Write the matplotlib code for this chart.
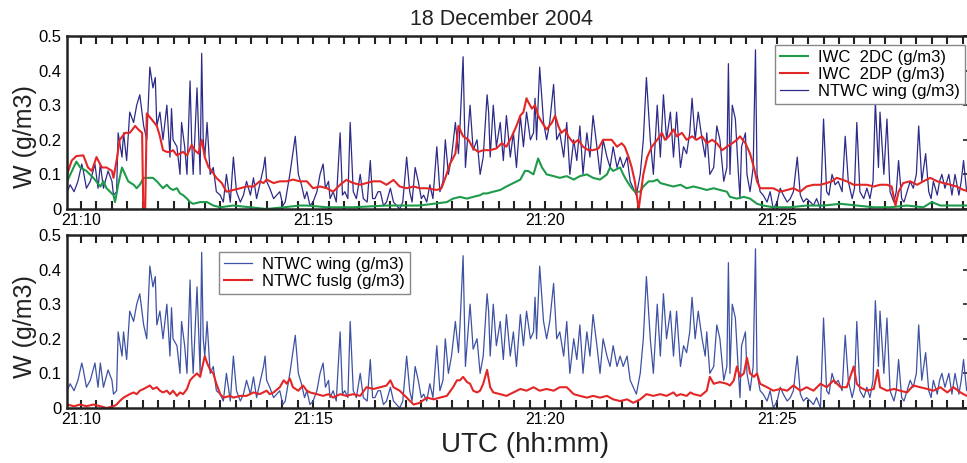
import numpy as np
import matplotlib
matplotlib.use("Agg")
import matplotlib.pyplot as plt
from matplotlib.ticker import FuncFormatter, MultipleLocator

plt.rcParams['font.family'] = ['Liberation Sans', 'DejaVu Sans']

# samples: (seconds after 21:10:00, W in g/m3)
wing = [(-18, .05), (-14, .07), (-9, .05), (-4, .08), (1, .13), (3, .11), (7, .06), (12, .08),
        (18, .13), (22, .06), (25, .13), (29, .06), (35, .11), (40, .08), (42, .04), (46, .05),
        (48, .22), (53, .15), (55, .22), (59, .14), (63, .28), (68, .25), (72, .30), (76, .33),
        (81, .24), (85, .20), (89, .41), (93, .35), (96, .38), (98, .24), (102, .28), (106, .20),
        (111, .30), (115, .15), (117, .29), (119, .20), (124, .18), (128, .10), (130, .25), (134, .18),
        (137, .10), (141, .37), (143, .20), (145, .10), (150, .35), (154, .10), (156, .45), (158, .20),
        (160, .15), (163, .25), (167, .10), (171, .12), (175, .05), (180, .04), (184, .02), (188, .10),
        (193, .02), (197, .15), (201, .05), (206, .02), (210, .04), (214, .08), (219, .04), (223, .09),
        (227, .03), (231, .07), (236, .12), (238, .15), (240, .08), (244, .06), (249, .03), (253, .04),
        (257, .05), (261, .01), (264, .02), (267, .06), (270, .10), (277, .21), (281, .10), (285, .07),
        (289, .03), (292, .05), (296, .01), (300, .02), (305, .05), (309, .10), (313, .13), (316, .06),
        (320, .08), (322, .03), (326, .05), (330, .02), (335, .22), (338, .04), (341, .05), (345, .03),
        (348, .25), (352, .05), (356, .03), (361, .10), (365, .03), (370, .02), (374, .14), (377, .03),
        (380, .03), (384, .05), (387, .05), (391, .01), (395, .02), (400, .06), (404, .02), (408, .01),
        (412, .00), (416, .02), (421, .15), (425, .05), (428, .02), (432, .12), (436, .08), (440, .03),
        (443, .04), (447, .02), (451, .07), (455, .03), (460, .18), (464, .05), (468, .08), (471, .20),
        (475, .10), (479, .15), (484, .25), (488, .16), (490, .24), (494, .44), (497, .12), (499, .18),
        (503, .30), (507, .17), (512, .20), (516, .10), (520, .15), (525, .33), (527, .28), (529, .15),
        (533, .30), (537, .18), (542, .25), (546, .14), (550, .27), (555, .15), (559, .22), (563, .12),
        (568, .27), (572, .18), (576, .28), (581, .20), (585, .22), (587, .32), (589, .20), (593, .41),
        (598, .25), (602, .20), (606, .25), (611, .36), (615, .20), (619, .22), (624, .15), (628, .25),
        (632, .10), (637, .20), (641, .14), (645, .24), (649, .10), (654, .22), (658, .15), (662, .27),
        (667, .18), (671, .10), (675, .20), (680, .15), (684, .12), (688, .18), (693, .12), (697, .15),
        (701, .12), (706, .15), (710, .08), (714, .06), (718, .04), (723, .10), (727, .20), (731, .38),
        (736, .20), (740, .10), (745, .30), (749, .15), (753, .33), (757, .20), (762, .28), (766, .15),
        (770, .28), (775, .12), (779, .18), (783, .16), (787, .22), (790, .32), (794, .20), (798, .28),
        (803, .20), (807, .15), (809, .22), (813, .10), (818, .12), (822, .24), (826, .20), (831, .08),
        (835, .12), (837, .42), (839, .10), (842, .30), (846, .26), (850, .10), (852, .03), (854, .18),
        (859, .22), (861, .10), (865, .05), (869, .12), (872, .46), (874, .10), (878, .05), (882, .04),
        (887, .02), (891, .05), (895, .00), (900, .02), (904, .06), (908, .04), (913, .02), (917, .03),
        (921, .05), (926, .15), (930, .04), (934, .02), (938, .03), (943, .02), (947, .01), (951, .03),
        (956, .00), (960, .26), (964, .05), (967, .04), (971, .10), (975, .07), (979, .08), (984, .05),
        (988, .21), (992, .08), (997, .03), (1000, .06), (1003, .25), (1007, .05), (1012, .03), (1016, .06),
        (1020, .03), (1024, .08), (1027, .31), (1031, .12), (1033, .28), (1038, .10), (1042, .26), (1046, .05),
        (1051, .02), (1054, .05), (1057, .14), (1061, .03), (1064, .02), (1068, .05), (1072, .08), (1076, .06),
        (1080, .10), (1083, .24), (1087, .08), (1092, .16), (1096, .05), (1099, .03), (1102, .08), (1107, .04),
        (1110, .08), (1113, .10), (1117, .06), (1122, .10), (1126, .04), (1130, .10), (1135, .04), (1138, .08),
        (1141, .14), (1145, .05), (1150, .06)]

iwc_2dc = [(-18, .08), (-6, .137), (-1, .12), (7, .11), (16, .09), (25, .065), (29, .08), (33, .06),
           (42, .04), (44, .02), (48, .07), (53, .12), (57, .10), (61, .08), (68, .07), (72, .06),
           (76, .07), (81, .09), (87, .09), (93, .09), (98, .08), (102, .07), (106, .06), (111, .07),
           (115, .06), (119, .055), (124, .06), (128, .045), (132, .04), (137, .03), (141, .02), (145, .015),
           (154, .02), (163, .02), (167, .015), (171, .01), (180, .005), (197, .01), (240, .0), (262, .005),
           (283, .01), (292, .01), (318, .005), (352, .005), (395, .01), (438, .01), (473, .02), (481, .03),
           (490, .035), (499, .03), (507, .035), (516, .04), (520, .045), (525, .045), (533, .05), (542, .055),
           (550, .065), (559, .075), (568, .085), (574, .11), (578, .11), (585, .10), (591, .146), (596, .12),
           (602, .10), (611, .095), (619, .09), (628, .095), (637, .085), (645, .095), (654, .10), (662, .09),
           (671, .085), (680, .10), (684, .12), (688, .11), (697, .12), (701, .10), (706, .08), (712, .06),
           (716, .05), (723, .05), (727, .065), (734, .08), (740, .08), (745, .085), (749, .075), (757, .07),
           (766, .065), (775, .07), (783, .06), (792, .065), (801, .06), (809, .055), (818, .06), (826, .055),
           (835, .05), (839, .035), (848, .03), (857, .035), (865, .03), (874, .015), (882, .01), (895, .005),
           (917, .005), (938, .01), (960, .01), (982, .015), (1003, .01), (1025, .005), (1046, .005),
           (1068, .01), (1089, .005), (1100, .02), (1111, .01), (1150, .01)]

iwc_2dp = [(-18, .10), (-12, .14), (-6, .153), (3, .155), (9, .12), (14, .11), (20, .15), (27, .12),
           (33, .12), (40, .11), (42, .09), (46, .14), (50, .20), (57, .22), (63, .22), (70, .24),
           (74, .23), (79, .22), (80.5, .0), (83, .0), (85, .276), (91, .26), (98, .24), (102, .21),
           (106, .17), (111, .165), (115, .165), (119, .17), (124, .155), (128, .16), (132, .165), (137, .155),
           (143, .185), (147, .17), (152, .16), (156, .20), (160, .15), (165, .12), (169, .11), (175, .09),
           (182, .075), (188, .05), (197, .055), (206, .06), (214, .065), (223, .065), (231, .08), (236, .075),
           (240, .085), (249, .075), (257, .08), (266, .08), (274, .085), (283, .08), (292, .08), (300, .06),
           (309, .065), (318, .06), (326, .05), (335, .07), (343, .084), (352, .075), (361, .07), (369, .075),
           (378, .08), (387, .08), (395, .07), (404, .084), (412, .065), (421, .06), (430, .065), (438, .06),
           (447, .06), (460, .055), (466, .06), (471, .09), (477, .13), (484, .16), (488, .24), (494, .21),
           (501, .20), (507, .175), (514, .165), (520, .17), (529, .17), (537, .175), (544, .19), (550, .18),
           (557, .21), (563, .24), (568, .27), (572, .28), (576, .32), (578, .31), (583, .29), (587, .30),
           (591, .27), (596, .25), (602, .23), (609, .25), (613, .27), (617, .24), (621, .22), (626, .23),
           (630, .21), (637, .19), (643, .20), (649, .18), (656, .17), (662, .17), (669, .175), (675, .20),
           (680, .20), (686, .20), (693, .18), (699, .19), (703, .18), (708, .15), (712, .12), (716, .08),
           (721, .0), (724, .05), (727, .10), (732, .15), (738, .18), (745, .20), (751, .22), (755, .20),
           (760, .21), (766, .23), (770, .21), (777, .22), (783, .20), (790, .21), (796, .20), (803, .21),
           (809, .19), (816, .20), (822, .19), (829, .17), (835, .18), (842, .19), (848, .20), (852, .21),
           (859, .19), (865, .16), (870, .12), (874, .08), (878, .06), (887, .06), (895, .06), (904, .05),
           (913, .055), (921, .06), (930, .05), (938, .065), (947, .07), (956, .07), (964, .075), (971, .08),
           (977, .09), (984, .085), (990, .08), (999, .07), (1007, .07), (1016, .07), (1025, .065), (1033, .07),
           (1042, .07), (1048, .065), (1053, .01), (1057, .05), (1063, .075), (1072, .08), (1081, .07),
           (1089, .08), (1098, .09), (1107, .08), (1115, .075), (1124, .07), (1132, .065), (1141, .055),
           (1150, .05)]

fuslg = [(-18, .01), (-9, .005), (-1, .01), (7, .005), (16, .01), (25, .005), (33, .0), (42, .005),
         (46, .01), (50, .02), (55, .03), (59, .035), (63, .04), (68, .045), (72, .04), (76, .05),
         (81, .055), (85, .06), (89, .065), (93, .055), (98, .06), (102, .05), (106, .045), (111, .05),
         (115, .04), (119, .05), (124, .035), (128, .045), (132, .04), (137, .055), (141, .08), (145, .09),
         (150, .10), (154, .09), (158, .13), (160, .15), (163, .13), (167, .11), (171, .10), (175, .07),
         (180, .04), (184, .03), (193, .035), (197, .03), (206, .035), (214, .035), (223, .045), (231, .04),
         (240, .05), (244, .04), (249, .045), (257, .06), (262, .08), (266, .07), (270, .085), (274, .06),
         (281, .05), (287, .065), (292, .05), (296, .045), (305, .04), (313, .035), (320, .04), (326, .03),
         (335, .04), (343, .035), (352, .04), (361, .035), (369, .06), (378, .055), (387, .06), (395, .065),
         (400, .08), (404, .06), (412, .05), (421, .03), (430, .01), (438, .015), (447, .03), (456, .025),
         (464, .03), (473, .035), (481, .06), (486, .08), (490, .08), (494, .09), (499, .075), (503, .07),
         (507, .05), (512, .045), (516, .05), (520, .07), (525, .11), (529, .06), (533, .045), (542, .04),
         (550, .035), (559, .045), (568, .055), (576, .05), (585, .06), (593, .05), (602, .055), (611, .05),
         (619, .06), (628, .06), (637, .04), (645, .035), (654, .03), (662, .035), (671, .03), (680, .035),
         (688, .025), (697, .02), (706, .025), (714, .015), (723, .025), (731, .04), (740, .035), (749, .04),
         (757, .035), (766, .045), (770, .035), (775, .04), (783, .035), (788, .045), (792, .04), (801, .035),
         (809, .05), (813, .09), (818, .07), (826, .075), (835, .07), (839, .065), (844, .08), (848, .12),
         (852, .09), (857, .10), (861, .145), (865, .10), (870, .09), (874, .10), (878, .07), (887, .06),
         (895, .05), (904, .055), (913, .05), (921, .065), (930, .05), (938, .06), (947, .05), (956, .07),
         (964, .06), (973, .08), (982, .06), (990, .06), (999, .12), (1003, .07), (1007, .06), (1016, .05),
         (1025, .055), (1030, .11), (1033, .06), (1042, .05), (1051, .055), (1059, .05), (1068, .045),
         (1076, .065), (1085, .06), (1094, .055), (1102, .05), (1111, .06), (1120, .045), (1128, .06),
         (1137, .045), (1145, .035), (1150, .04)]

hour_ticks = [10, 15, 20, 25]
tick_labels = ['21:10', '21:15', '21:20', '21:25']


def to_min(samples):
    a = np.array(samples, dtype=float)
    return 10 + a[:, 0] / 60.0, a[:, 1]


navy = '#2d2b88'
blue = '#3d52a3'
green = '#1f9b4c'
red = '#e32626'

fig = plt.figure(figsize=(9.67, 4.63), dpi=100)
ax1 = fig.add_axes([0.0693, 0.5486, 0.934, 0.3737])
ax2 = fig.add_axes([0.0693, 0.1188, 0.934, 0.3737])

tw, ww = to_min(wing)
tc, wc = to_min(iwc_2dc)
tp, wp = to_min(iwc_2dp)
tf, wf = to_min(fuslg)

l_wing, = ax1.plot(tw, ww, color=navy, lw=0.9, label='NTWC wing (g/m3)')
l_dc, = ax1.plot(tc, wc, color=green, lw=1.5, label='IWC  2DC (g/m3)')
l_dp, = ax1.plot(tp, wp, color=red, lw=1.5, label='IWC  2DP (g/m3)')
ax1.legend(handles=[l_dc, l_dp, l_wing], loc='upper right', bbox_to_anchor=(0.9945, 0.948),
           borderaxespad=0, fancybox=False, edgecolor='#888888', framealpha=1,
           fontsize=12, handlelength=1.7, handletextpad=0.6, labelspacing=0.12,
           borderpad=0.3)

l_w2, = ax2.plot(tw, ww, color=blue, lw=0.9, label='NTWC wing (g/m3)')
l_f, = ax2.plot(tf, wf, color=red, lw=1.5, label='NTWC fuslg (g/m3)')
ax2.legend(handles=[l_w2, l_f], loc='upper left', bbox_to_anchor=(0.168, 0.902),
           borderaxespad=0, fancybox=False, edgecolor='#888888', framealpha=1,
           fontsize=12, handlelength=1.7, handletextpad=0.6, labelspacing=0.12,
           borderpad=0.3)

for ax in (ax1, ax2):
    ax.set_xlim(10 - 18.1 / 60, 10 + 1149.6 / 60)
    ax.set_ylim(0, 0.5)
    ax.set_xticks(hour_ticks)
    ax.set_xticklabels(tick_labels)
    ax.xaxis.set_minor_locator(MultipleLocator(1 / 3))
    ax.set_yticks([0, 0.1, 0.2, 0.3, 0.4, 0.5])
    ax.yaxis.set_major_formatter(FuncFormatter(lambda v, p: '0' if v == 0 else '%.1f' % v))
    ax.tick_params(axis='x', which='both', direction='in', top=True, length=6, width=1.5,
                   color='#222222', labelsize=11.5, pad=3)
    ax.tick_params(axis='y', direction='in', left=False, right=True, length=5, width=1.2,
                   color='#222222', labelsize=12, pad=4)
    for s in ax.spines.values():
        s.set_linewidth(1.8)
        s.set_color('#222222')

fig.text(0.519, 0.957, '18 December 2004', ha='center', va='center', fontsize=15.5, color='#222222')
fig.text(0.026, 1 - 137 / 463, 'W (g/m3)', rotation=90, ha='center', va='center', fontsize=18, color='#222222')
fig.text(0.026, 1 - 327 / 463, 'W (g/m3)', rotation=90, ha='center', va='center', fontsize=18, color='#222222')
fig.text(0.543, 1 - 445 / 463, 'UTC (hh:mm)', ha='center', va='center', fontsize=20, color='#222222')

fig.savefig('out.png', dpi=100)
